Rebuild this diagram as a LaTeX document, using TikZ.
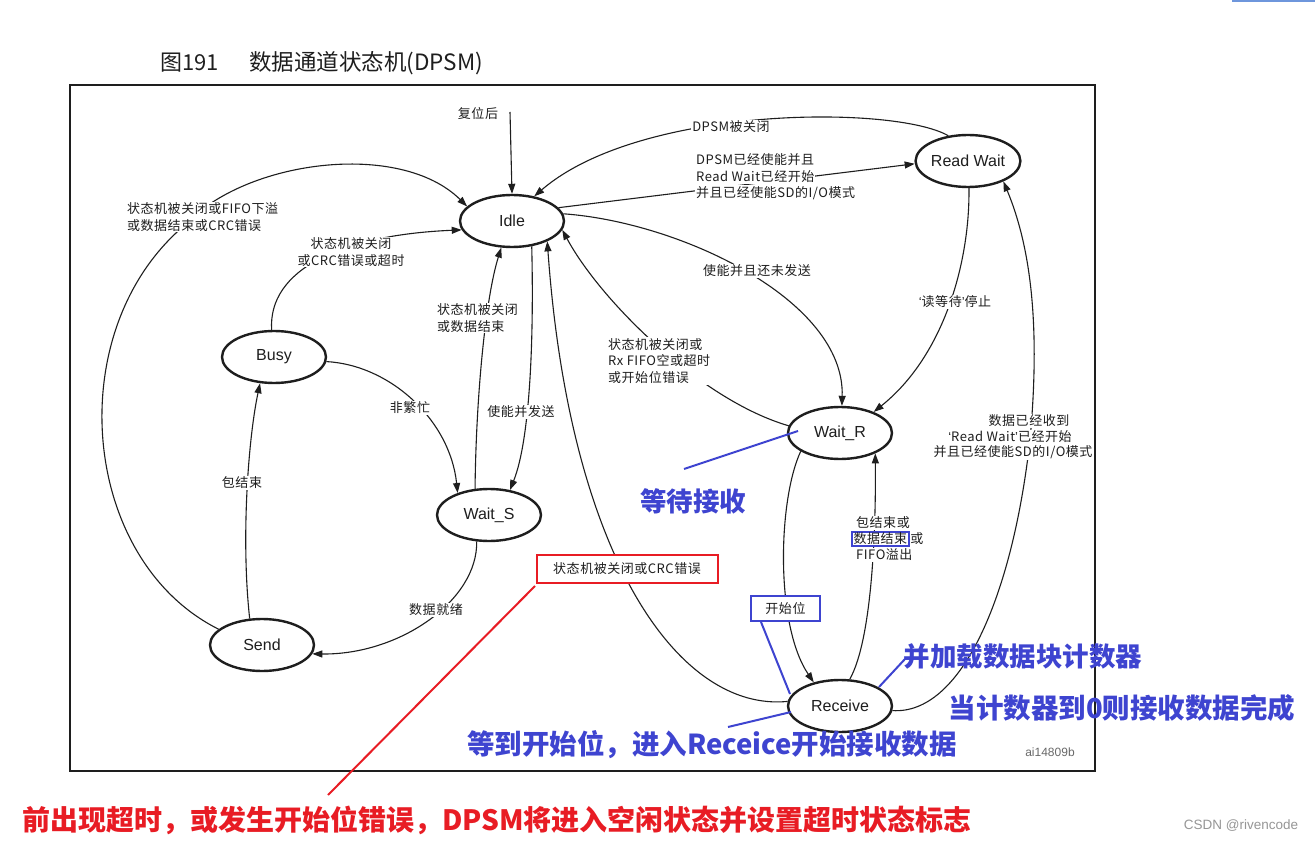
\documentclass[tikz,border=0pt]{standalone}
\usepackage{fontspec}
\setmainfont{Noto Sans CJK SC}
\newfontfamily\lblf{Noto Sans CJK SC}[LetterSpace=4]
\newfontfamily\arial{Liberation Sans}
\usetikzlibrary{arrows.meta,shapes.geometric,calc}
\definecolor{ann}{RGB}{62,68,208}
\definecolor{annred}{RGB}{232,28,36}
\definecolor{ink}{RGB}{30,30,30}
\definecolor{wm}{RGB}{150,150,150}
\definecolor{topblue}{RGB}{110,150,220}
\begin{document}
\begin{tikzpicture}[x=1pt,y=-1pt,
  st/.style={ellipse,draw=ink,line width=2.4pt,minimum width=104pt,minimum height=52pt,inner sep=0pt,font=\arial\fontsize{16}{18}\selectfont,text=ink},
  conn/.style={draw=ink,line width=1.1pt,-{Triangle[length=10pt,width=7pt]}},
  lbl/.style={fill=white,inner sep=1pt,font=\lblf\fontsize{13}{16.5}\selectfont,text=ink},
  annline/.style={draw=ann,line width=2pt},
  anntext/.style={text=ann,font=\bfseries\fontsize{26.5}{30}\selectfont,inner sep=0pt},
  redline/.style={draw=annred,line width=2pt},
  redtext/.style={text=annred,font=\bfseries\fontsize{28}{32}\selectfont,inner sep=0pt}
]
\useasboundingbox (0,0) rectangle (1315,842);
\fill[white] (0,0) rectangle (1315,842);

% top-right artifact line
\draw[topblue,line width=1.5pt] (1232,1) -- (1315,1);

% title
\node[text=ink,font=\fontsize{22}{24}\selectfont,anchor=west,inner sep=0pt] (ttlA) at (160,63) {图191};
\node[text=ink,font=\fontsize{22.5}{24}\selectfont,anchor=west,inner sep=0pt] (ttlB) at (249,63) {数据通道状态机(DPSM)};

% frame
\draw[ink,line width=1.6pt] (70,85) rectangle (1095,771);

% states
\node[st] (idle) at (512,221) {Idle};
\node[st] (rw)   at (968,161) {Read Wait};
\node[st] (busy) at (274,357) {Busy};
\node[st] (ws)   at (489,515) {Wait\_S};
\node[st] (send) at (262,645) {Send};
\node[st] (wr)   at (840,433) {Wait\_R};
\node[st] (rcv)  at (840,706) {Receive};

% reset
\coordinate (rst) at (510,112);
\draw[conn] (rst) -- (idle.north);
\node[lbl] (lrst) at (478,114) {复位后};

% Read Wait -> Idle
\draw[conn] (rw.128) .. controls (895,105) and (640,105) .. (idle.48);
\node[lbl] (l1) at (731,127) {DPSM被关闭};

% Idle -> Read Wait
\draw[conn] (idle.16) -- (rw.183);
\node[lbl,anchor=west] (l2a) at (695,160) {DPSM已经使能并且};
\node[lbl,anchor=west] (l2b) at (695,177) {Read Wait已经开始};
\node[lbl,anchor=west] (l2c) at (695,193) {并且已经使能SD的I/O模式};

% Idle -> Wait_R
\draw[conn] (idle.8) .. controls (680,222) and (845,300) .. (wr.86);
\node[lbl] (l3) at (757,271) {使能并且还未发送};

% Read Wait -> Wait_R
\draw[conn] (rw.272) .. controls (970,260) and (945,355) .. (wr.32);
\node[lbl] (l4) at (955,302) {{\arial ‘}读等待{\arial ’}停止};

% Wait_R -> Idle
\draw[conn] (wr.172) .. controls (700,400) and (600,300) .. (idle.-10);
\node[lbl,align=left,anchor=west] (l5) at (607,361) {状态机被关闭或\\Rx FIFO空或超时\\或开始位错误};

% Receive -> Idle
\draw[conn] (rcv.175) .. controls (680,712) and (570,560) .. (idle.-30);
\node[draw=annred,line width=2pt,fill=white,minimum width=181pt,minimum height=28pt,inner sep=0pt,text=ink,font=\lblf\fontsize{13}{15}\selectfont] (l6) at (627,569) {状态机被关闭或CRC错误};

% Wait_R -> Receive
\draw[conn] (wr.205) .. controls (778,500) and (775,625) .. (rcv.138);
\node[draw=ann,line width=2pt,fill=white,minimum width=69pt,minimum height=25pt,inner sep=0pt,text=ink,font=\lblf\fontsize{13}{15}\selectfont] (l7) at (785.5,608.5) {开始位};

% Receive -> Wait_R
\draw[conn] (rcv.70) .. controls (872,640) and (876,530) .. (wr.-30);
\node[lbl,anchor=west] (l8a) at (855,523) {包结束或};
\node[lbl,anchor=west,draw=ann,line width=2pt,inner xsep=1.5pt,inner ysep=0.5pt] (l8b) at (851,539) {数据结束};
\node[lbl,anchor=west,inner xsep=0.5pt] (l8c) at (l8b.east) {或};
\node[lbl,anchor=west] (l8d) at (855,555) {FIFO溢出};

% Receive -> Read Wait
\draw[conn] (rcv.-5) .. controls (960,715) and (1012,600) .. (1030,440) .. controls (1040,330) and (1032,250) .. (rw.-30);
\node[lbl] (l9a) at (1029,421) {数据已经收到};
\node[lbl] (l9b) at (1010,437) {{\arial ‘}Read Wait{\arial ’}已经开始};
\node[lbl] (l9c) at (1013,452) {并且已经使能SD的I/O模式};

% Send -> Idle
\draw[conn] (send.160) .. controls (80,560) and (60,330) .. (185,225) .. controls (245,160) and (400,140) .. (idle.162);
\node[lbl,align=left,anchor=west] (l10) at (126,217) {状态机被关闭或FIFO下溢\\或数据结束或CRC错误};

% Busy -> Idle
\draw[conn] (busy.95) .. controls (268,270) and (340,235) .. (idle.190);
\node[lbl,align=center] (l11) at (351,252) {状态机被关闭\\或CRC错误或超时};

% Busy -> Wait_S
\draw[conn] (busy.-5) .. controls (390,365) and (450,420) .. (ws.145);
\node[lbl] (l12) at (410,408) {非繁忙};

% Send -> Busy
\draw[conn] (send.115) .. controls (241,540) and (248,440) .. (busy.-118);
\node[lbl] (l13) at (242,483) {包结束};

% Wait_S -> Idle
\draw[conn] (ws.118) .. controls (476,400) and (485,300) .. (idle.-112);
\node[lbl,align=left,anchor=west] (l14) at (436,318) {状态机被关闭\\或数据结束};

% Idle -> Wait_S
\draw[conn] (idle.-52) .. controls (534,340) and (530,440) .. (ws.50);
\node[lbl] (l15) at (521,412) {使能并发送};

% Wait_S -> Send
\draw[conn] (ws.-115) .. controls (478,600) and (400,655) .. (send.-10);
\node[lbl] (l16) at (436,610) {数据就绪};

% figure code
\node[text=wm!70!black,font=\arial\fontsize{12}{14}\selectfont,inner sep=0pt] (code) at (1050,752) {ai14809b};

% blue annotations
\node[anntext] (a1) at (693,501) {等待接收};
\coordinate (a1s) at (684,469);
\coordinate (a1e) at (798,431);
\draw[annline] (a1s) -- (a1e);

\coordinate (a2s) at (761,622);
\coordinate (a2e) at (790,694);
\draw[annline] (a2s) -- (a2e);

\node[anntext] (a3) at (1023,656) {并加载数据块计数器};
\coordinate (a3s) at (879,687);
\coordinate (a3e) at (905,659);
\draw[annline] (a3s) -- (a3e);

\node[anntext,font=\bfseries\fontsize{27.5}{30}\selectfont] (a4) at (1122,708) {当计数器到0则接收数据完成};

\node[anntext,font=\bfseries\fontsize{27.5}{30}\selectfont] (a5) at (712,745) {等到开始位，进入Receice开始接收数据};
\coordinate (a5s) at (728,727);
\coordinate (a5e) at (791,712);
\draw[annline] (a5s) -- (a5e);

% red annotation
\coordinate (r1s) at (535,586);
\coordinate (r1e) at (328,795);
\draw[redline] (r1s) -- (r1e);
\node[redtext] (r1) at (497,820) {前出现超时，或发生开始位错误，DPSM将进入空闲状态并设置超时状态标志};

% watermark
\node[text=wm,font=\arial\fontsize{13.5}{15}\selectfont,inner sep=0pt] (wmk) at (1241,826) {CSDN @rivencode};
\end{tikzpicture}
\end{document}
